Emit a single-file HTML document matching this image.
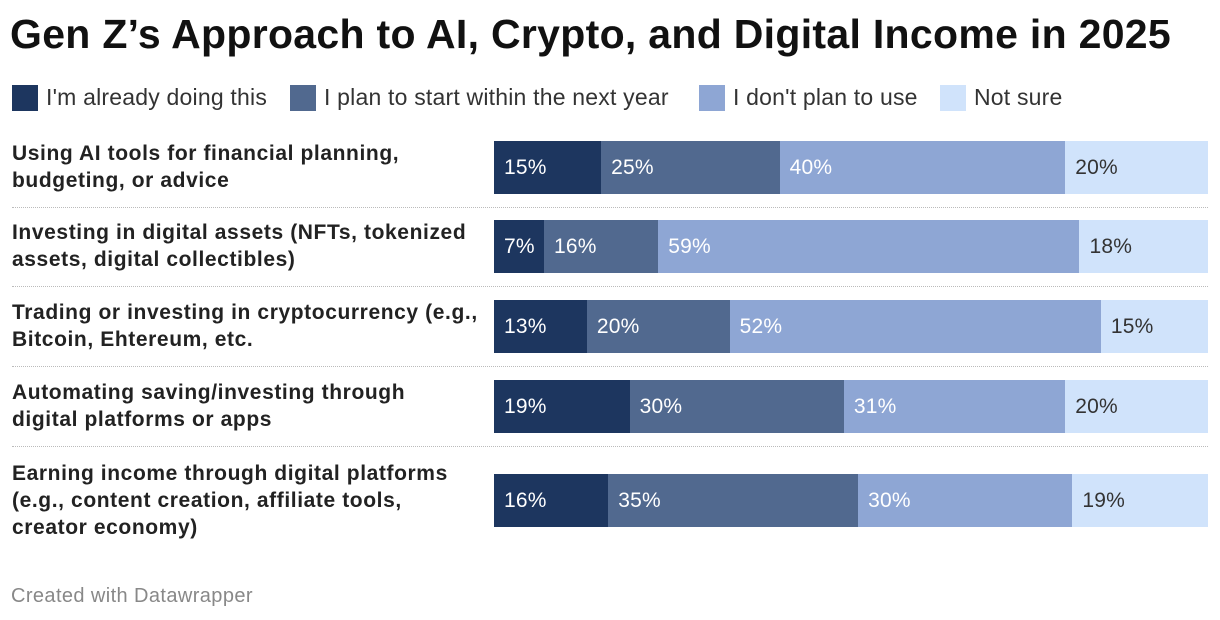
<!DOCTYPE html>
<html><head><meta charset="utf-8"><style>
body{margin:0;width:1220px;height:620px;background:#fff;font-family:"Liberation Sans",sans-serif;position:relative;overflow:hidden}
.t{position:absolute;left:10px;top:11px;font-size:41px;font-weight:bold;color:#111;letter-spacing:0.3px}
.leg{position:absolute;top:84px;display:flex;align-items:center;font-size:23px;color:#333;letter-spacing:0.2px}
.sw{width:26px;height:26px;margin-right:8px}
.lab{position:absolute;left:12px;font-size:21px;font-weight:bold;color:#222;line-height:27px;letter-spacing:0.6px}
.seg{position:absolute;height:53px;font-size:21px;line-height:53px;box-sizing:border-box;padding-left:10px;white-space:nowrap;letter-spacing:0.2px}
.sep{position:absolute;left:12px;width:1196px;border-top:1px dotted #bbb}
.foot{position:absolute;left:11px;top:585px;font-size:20px;color:#888;letter-spacing:0.4px}
</style></head><body>
<div class="t">Gen Z’s Approach to AI, Crypto, and Digital Income in 2025</div>
<div id="legend"></div>
<div id="chart"></div>
<div class="foot">Created with Datawrapper</div>
<script>
const seriesNames=["I'm already doing this","I plan to start within the next year","I don't plan to use","Not sure"];
const colors=["#1d365f","#51698f","#8ea6d4","#d0e3fb"];
const categories=[["Using AI tools for financial planning,","budgeting, or advice"],["Investing in digital assets (NFTs, tokenized","assets, digital collectibles)"],["Trading or investing in cryptocurrency (e.g.,","Bitcoin, Ehtereum, etc."],["Automating saving/investing through","digital platforms or apps"],["Earning income through digital platforms","(e.g., content creation, affiliate tools,","creator economy)"]];
const already=[15,7,13,19,16];
const plan=[25,16,20,30,35];
const dont=[40,59,52,31,30];
const notSure=[20,18,15,20,19];
const series=[already,plan,dont,notSure];
const legX=[12,290,699,940];
const leg=document.getElementById('legend');
seriesNames.forEach((n,i)=>{const d=document.createElement('div');d.className='leg';d.style.left=legX[i]+'px';


d.innerHTML='<div class="sw" style="background:'+colors[i]+'"></div>'+n;leg.appendChild(d);});
const x0=494,W=714;
const rowTop=[141,220,300,380,474];
const ch=document.getElementById('chart');
const xs=v=>v/100*W;
categories.forEach((c,r)=>{
 const l=document.createElement('div');l.className='lab';
 
 
 const n=c.length;l.style.top=(rowTop[r]+26-n*13.5)+'px';l.innerHTML=c.join('<br>');ch.appendChild(l);
 let tot=series.reduce((a,s)=>a+s[r],0),acc=0;
 series.forEach((s,i)=>{const b=document.createElement('div');b.className='seg';
  
  
  const left=x0+xs(acc/tot*100),w=xs(s[r]/tot*100);
  b.style.left=left+'px';b.style.width=w+'px';b.style.top=rowTop[r]+'px';b.style.background=colors[i];b.style.color=i<3?'#fff':'#333';
  b.textContent=s[r]+'%';ch.appendChild(b);acc+=s[r];});
 if(r<categories.length-1){const sp=document.createElement('div');sp.className='sep';
  
  
  sp.style.top=(rowTop[r]+66)+'px';ch.appendChild(sp);}
});
</script>
</body></html>
